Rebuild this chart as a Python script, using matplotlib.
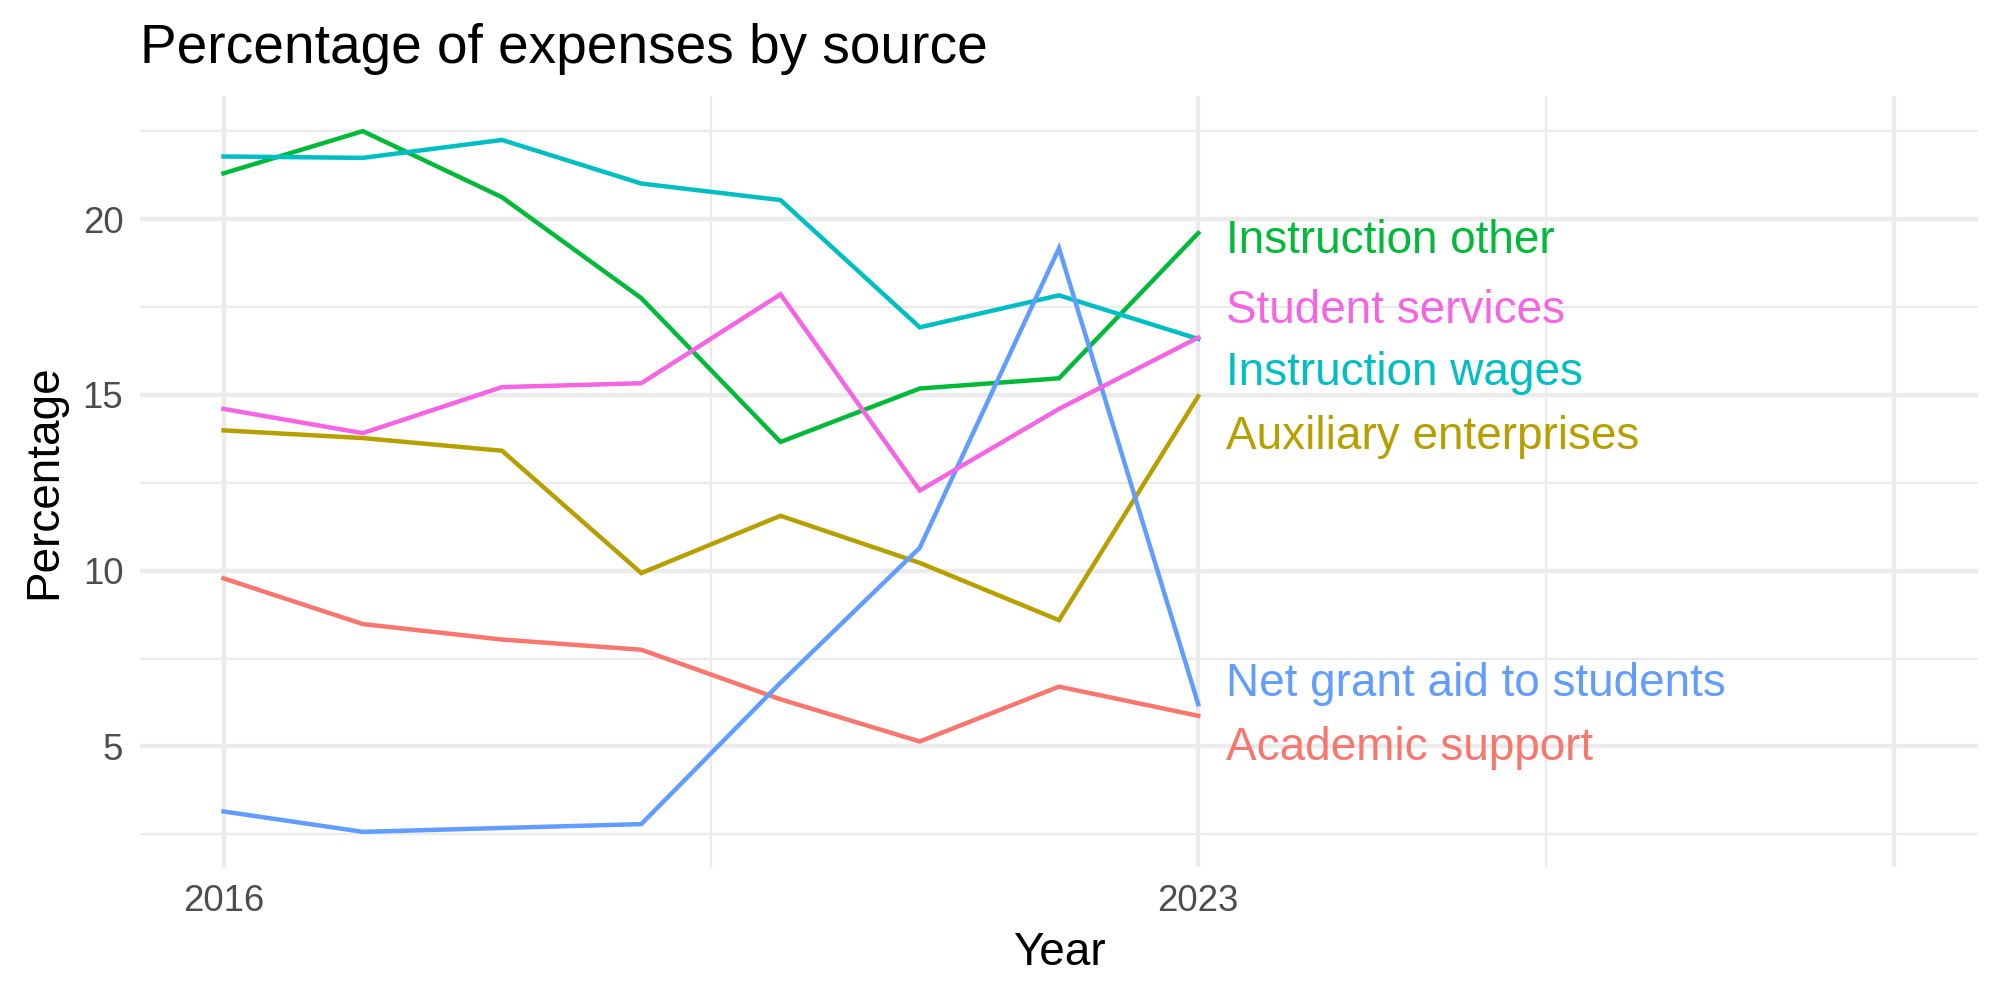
import numpy as np
import matplotlib
matplotlib.use("Agg")
import matplotlib.pyplot as plt

plt.rcParams['font.family'] = ['Liberation Sans', 'DejaVu Sans']

# Data
years = [2016, 2017, 2018, 2019, 2020, 2021, 2022, 2023]
academic_support = [9.78, 8.48, 8.04, 7.75, 6.34, 5.14, 6.70, 5.87]
auxiliary_enterprises = [13.99, 13.77, 13.41, 9.93, 11.56, 10.22, 8.59, 14.96]
instruction_other = [21.30, 22.50, 20.62, 17.75, 13.66, 15.18, 15.47, 19.60]
instruction_wages = [21.78, 21.74, 22.25, 21.01, 20.54, 16.92, 17.83, 16.59]
net_grant_aid = [3.15, 2.57, 2.68, 2.79, 6.81, 10.65, 19.17, 6.20]
student_services = [14.60, 13.91, 15.22, 15.33, 17.86, 12.28, 14.60, 16.63]

series_names = ['Academic support', 'Auxiliary enterprises', 'Instruction other',
                'Instruction wages', 'Net grant aid to students', 'Student services']
series_values = [academic_support, auxiliary_enterprises, instruction_other,
                 instruction_wages, net_grant_aid, student_services]
colors = ['#F8766D', '#B79F00', '#00BA38', '#00BFC4', '#619CFF', '#F564E3']

# where the repelled end labels sit (text placement, not data)
label_y = [4.96, 13.80, 19.38, 15.62, 6.78, 17.39]

fig = plt.figure(figsize=(20 / 3, 10 / 3), dpi=300)
ax = fig.add_axes([0.070, 0.133, 0.919, 0.771])

for vals, col in zip(series_values, colors):
    ax.plot(years, vals, color=col, lw=1.07, solid_joinstyle='miter', zorder=3)

for name, y, col in zip(series_names, label_y, colors):
    ax.text(years[-1] + 0.2, y, name, color=col, fontsize=11, ha='left', va='center')

ax.set_xlim(2015.4, 2028.6)
ax.set_ylim(1.57, 23.5)
ax.set_xticks([2016, 2023, 2028])
ax.set_xticklabels(['2016', '2023', ''])
ax.set_xticks([2019.5, 2025.5], minor=True)
ax.set_yticks([5, 10, 15, 20])
ax.set_yticks([2.5, 7.5, 12.5, 17.5, 22.5], minor=True)

ax.grid(which='major', color='#EBEBEB', lw=1.07)
ax.grid(which='minor', color='#EBEBEB', lw=0.53)
ax.set_axisbelow(True)
for s in ax.spines.values():
    s.set_visible(False)
ax.tick_params(which='both', length=0, labelsize=8.8, labelcolor='#4D4D4D', pad=4)

ax.set_xlabel('Year', fontsize=11, labelpad=3)
ax.set_ylabel('Percentage', fontsize=11, labelpad=4)
ax.set_title('Percentage of expenses by source', fontsize=13.2, loc='left', pad=8)

fig.savefig('out.png', dpi=300)
